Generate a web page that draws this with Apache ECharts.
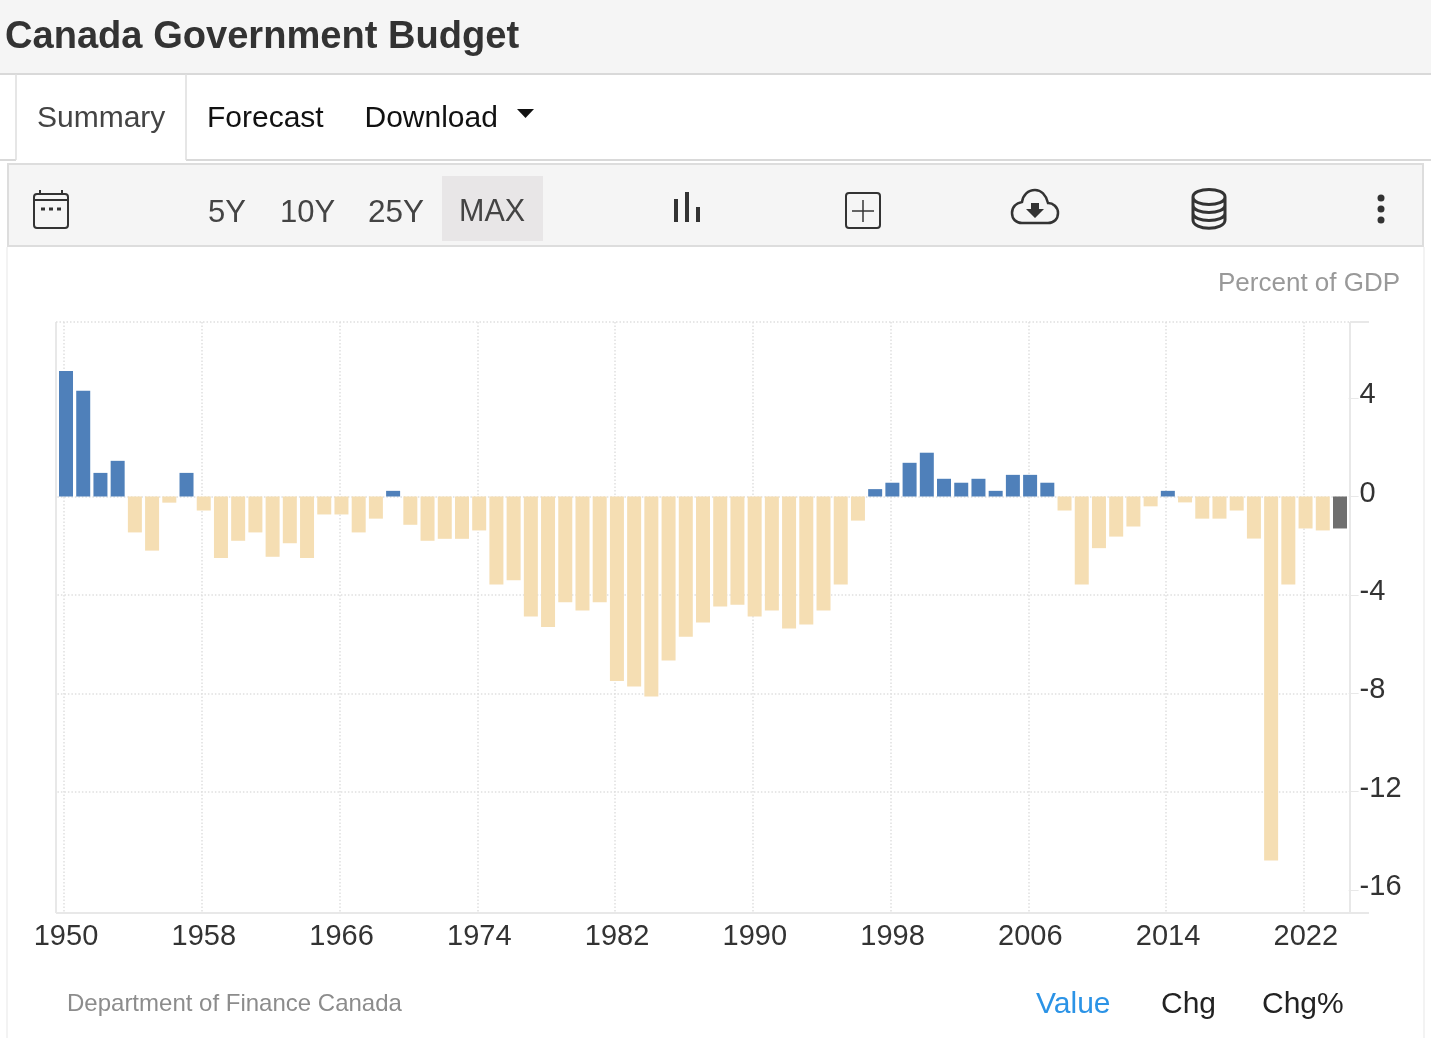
<!DOCTYPE html>
<html>
<head>
<meta charset="utf-8">
<title>Canada Government Budget</title>
<style>html,body{margin:0;padding:0;background:#fff}#c{width:1431px;height:1038px}</style>
<script src="https://cdn.jsdelivr.net/npm/echarts@6/dist/echarts.min.js"></script>
</head>
<body>
<div id="c"></div>
<script>
const startYear = 1950;
const budgetValues = [
  5.1, 4.3, 0.96, 1.45, -1.46, -2.2, -0.25, 0.96, -0.57, -2.5,
  -1.8, -1.46, -2.45, -1.9, -2.5, -0.73, -0.73, -1.46, -0.9, 0.23,
  -1.15, -1.8, -1.72, -1.72, -1.38, -3.58, -3.4, -4.88, -5.3, -4.3,
  -4.63, -4.3, -7.5, -7.72, -8.13, -6.67, -5.7, -5.12, -4.47, -4.4,
  -4.88, -4.63, -5.37, -5.2, -4.63, -3.58, -0.98, 0.3, 0.56, 1.37,
  1.78, 0.72, 0.56, 0.72, 0.23, 0.88, 0.88, 0.56, -0.57, -3.58,
  -2.1, -1.63, -1.22, -0.4, 0.23, -0.24, -0.9, -0.9, -0.57, -1.71,
  -14.8, -3.58, -1.3, -1.38, -1.3
];
const years = budgetValues.map((_, i) => String(startYear + i));
const yTickValues = [-16, -12, -8, -4, 0, 4];
const tabLabels = ['Summary', 'Forecast', 'Download'];
const rangeLabels = ['5Y', '10Y', '25Y', 'MAX'];
const unitLabel = 'Percent of GDP';
const sourceLabel = 'Department of Finance Canada';
const modeLabels = ['Value', 'Chg', 'Chg%'];

const FONT = '"Liberation Sans", Arial, sans-serif';
const POS = '#4f80ba', NEG = '#f5deb3', LAST = '#6f6f6f';
const GRIDC = '#dfdfdf', AXISC = '#e8e8e8', INK = '#333';
const DOTS = [1.5, 2];

function txt(text, x, y, size, fill, extra) {
  return {type: 'text', z: 10, style: Object.assign({text, x, y: y + 2, fill, font: size + 'px ' + FONT, verticalAlign: 'middle', align: 'left'}, extra || {})};
}
function box(x, y, w, h, fill, stroke, lw, r) {
  return {type: 'rect', z: 1, shape: {x, y, width: w, height: h, r: r || 0}, style: {fill: fill || 'none', stroke: stroke || 'none', lineWidth: lw || 0}};
}
function ln(x1, y1, x2, y2, stroke, lw, dash) {
  return {type: 'line', z: 2, shape: {x1, y1, x2, y2}, style: {stroke, lineWidth: lw || 1, lineDash: dash || null}};
}
let pathCount = 0;
function pth(d, fill, stroke, lw) {
  const name = 'iconPath' + (pathCount++);
  echarts.graphic.registerShape(name, echarts.graphic.extendPath(d, {}));
  return {type: name, z: 5, style: {fill: fill || 'none', stroke: stroke || 'none', lineWidth: lw || 0}};
}

const ICON = '#333';
const chrome = [
  box(0, 0, 1431, 73, '#f5f5f5'),
  ln(0, 74, 1431, 74, '#d9d9d9', 2),
  ln(0, 160, 16, 160, '#d9d9d9', 2),
  ln(186, 160, 1431, 160, '#d9d9d9', 2),
  ln(16, 74, 16, 160, '#dedede', 1.5),
  ln(186, 74, 186, 160, '#dedede', 1.5),
  box(8, 164, 1415, 82, '#f5f5f5', '#dddddd', 2),
  box(442, 176, 101, 65, '#e8e6e7'),
  ln(7, 247, 7, 1038, '#efefef', 1.5),
  ln(1424, 247, 1424, 1038, '#efefef', 1.5),

  txt('Canada Government Budget', 5, 35, 38.1, INK, {font: 'bold 38.1px ' + FONT}),
  txt(tabLabels[0], 37, 117, 30, '#444'),
  txt(tabLabels[1], 207, 117, 30, '#111'),
  txt(tabLabels[2], 364.5, 117, 30, '#111'),
  pth('M517 109 H534 L525.5 118 Z', '#111'),

  txt(rangeLabels[0], 208, 211, 31, '#444'),
  txt(rangeLabels[1], 280, 211, 31, '#444'),
  txt(rangeLabels[2], 368, 211, 31.5, '#444'),
  txt(rangeLabels[3], 459, 211, 30.5, '#444'),

  // calendar
  box(34, 194, 34, 34, 'none', ICON, 2, 3),
  ln(34, 200, 68, 200, ICON, 2),
  ln(40, 190, 40, 194, ICON, 2),
  ln(62, 190, 62, 194, ICON, 2),
  ln(41, 209, 61, 209, ICON, 3, [4, 4]),
  // bars
  box(674, 199, 4, 23, ICON),
  box(685, 192, 4, 30, ICON),
  box(696, 207, 4, 15, ICON),
  // add box
  box(846, 193, 34, 35, 'none', ICON, 2, 3),
  ln(863, 200, 863, 222, ICON, 1.5),
  ln(852, 211, 874, 211, ICON, 1.5),
  // cloud download
  pth('M1022 223 H1048 C1054 223 1058 219 1058 213 C1058 207 1053 203 1048 203 C1046 195 1041 190 1035 190 C1028 190 1023 195 1022 202 C1016 203 1012 207 1012 213 C1012 219 1016 223 1022 223 Z', 'none', ICON, 2.5),
  pth('M1031 203 H1039 V209 H1044 L1035 218 L1026 209 H1031 Z', ICON),
  // database
  pth('M1193 197 C1193 187 1225 187 1225 197 C1225 207 1193 207 1193 197 Z M1193 197 V220 C1193 231 1225 231 1225 220 V197 M1193 205 C1193 215 1225 215 1225 205 M1193 213 C1193 223 1225 223 1225 213', 'none', ICON, 3),
  // more
  {type: 'circle', z: 5, shape: {cx: 1381, cy: 198, r: 3.5}, style: {fill: ICON}},
  {type: 'circle', z: 5, shape: {cx: 1381, cy: 209, r: 3.5}, style: {fill: ICON}},
  {type: 'circle', z: 5, shape: {cx: 1381, cy: 220, r: 3.5}, style: {fill: ICON}},

  txt(unitLabel, 1218, 282, 26, '#999'),
  txt(sourceLabel, 67, 1002, 24, '#8c8c8c'),
  txt(modeLabels[0], 1036, 1003, 30, '#2b93e6'),
  txt(modeLabels[1], 1161, 1003, 30, '#222'),
  txt(modeLabels[2], 1262, 1003, 30, '#222'),

  // plot frame
  ln(56, 322, 56, 913, AXISC, 2),
  ln(1350, 322, 1350, 913, AXISC, 2),
  ln(56, 913, 1369, 913, AXISC, 2),
  ln(1350, 322, 1369, 322, AXISC, 2),
  ln(56, 322, 1350, 322, GRIDC, 1.5, DOTS)
];

const unit = 24.6, zeroY = 496.5, yMax = 8, yMin = -20;

const chart = echarts.init(document.getElementById('c'), null, {renderer: 'canvas'});
chart.setOption({
  animation: false,
  backgroundColor: '#fff',
  graphic: {elements: chrome},
  grid: [
    {left: 57.4, width: 75 * 17.216, top: zeroY - yMax * unit, height: (yMax - yMin) * unit},
    {left: 64, width: 74 * 17.22, top: 322, height: 591}
  ],
  xAxis: [
    {gridIndex: 0, type: 'category', data: years, show: false},
    {gridIndex: 1, type: 'category', data: years, boundaryGap: false,
      axisLine: {show: false}, axisTick: {show: false},
      axisLabel: {interval: 7, color: INK, fontSize: 29, fontFamily: FONT, margin: 9, padding: [0, 0, 0, 4], hideOverlap: false},
      splitLine: {show: true, interval: 7, lineStyle: {color: GRIDC, type: DOTS, width: 1.5}}}
  ],
  yAxis: [
    {gridIndex: 0, type: 'value', position: 'right', min: yMin, max: yMax, interval: 4,
      axisLine: {show: false},
      axisTick: {show: true, length: 10, lineStyle: {color: AXISC}, customValues: yTickValues},
      axisLabel: {color: INK, fontSize: 29, fontFamily: FONT, margin: 11, verticalAlign: 'bottom', lineHeight: 6, customValues: yTickValues},
      splitLine: {show: true, showMinLine: false, showMaxLine: false, lineStyle: {color: GRIDC, type: DOTS, width: 1.5}}},
    {gridIndex: 1, type: 'value', show: false, min: 0, max: 1, splitLine: {show: false}}
  ],
  series: [{
    type: 'bar',
    xAxisIndex: 0, yAxisIndex: 0,
    barWidth: 14,
    data: budgetValues,
    z: 5,
    itemStyle: {
      color: p => p.dataIndex === budgetValues.length - 1 ? LAST : (p.value >= 0 ? POS : NEG)
    }
  }]
});
</script>
</body>
</html>
